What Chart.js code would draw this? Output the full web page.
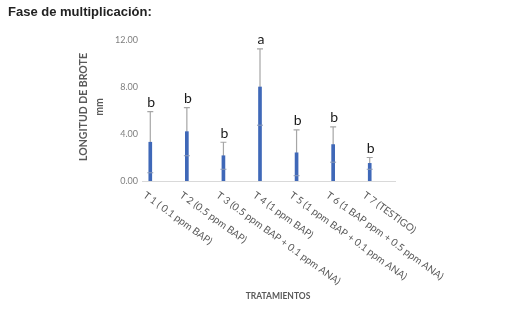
<!DOCTYPE html>
<html>
<head>
<meta charset="utf-8">
<script src="https://cdn.jsdelivr.net/npm/chart.js@4.4.1/dist/chart.umd.min.js"></script>
<style>
    body { margin: 0; background: #fff; }
    canvas { display: block; }
</style>
</head>
<body>
<canvas id="broteChart" width="505" height="312"></canvas>
<script>
// datos
const tratamientos = [
    "T 1 ( 0.1 ppm BAP)",
    "T 2 (0.5 ppm BAP)",
    "T 3 (0.5 ppm BAP + 0.1 ppm ANA)",
    "T 4 (1 ppm BAP)",
    "T 5 (1 ppm BAP + 0.1 ppm ANA)",
    "T 6 (1 BAP ppm + 0.5 ppm ANA)",
    "T 7 (TESTIGO)"
];
const longitud = [3.3, 4.2, 2.15, 8.0, 2.4, 3.1, 1.5];
const desviacion = [2.6, 2.05, 1.15, 3.25, 1.95, 1.5, 0.5];
const letras = ["b", "b", "b", "a", "b", "b", "b"];
const yTicks = [0, 4, 8, 12];

const grisTexto = '#595959';

// barras de error + letras + textos
const extras = {
    id: 'extras',
    beforeDatasetsDraw(chart) {
        const ctx = chart.ctx;
        const x = chart.scales.x, y = chart.scales.y;
        ctx.save();
        // linea del eje x
        ctx.strokeStyle = '#d9d9d9';
        ctx.lineWidth = 1;
        ctx.beginPath();
        ctx.moveTo(chart.chartArea.left + 10, y.getPixelForValue(0) + 0.5);
        ctx.lineTo(chart.chartArea.right + 8, y.getPixelForValue(0) + 0.5);
        ctx.stroke();
        ctx.strokeStyle = '#a6a6a6';
        ctx.lineWidth = 1.2;
        longitud.forEach(function(v, i) {
            let px = x.getPixelForValue(i);
            let top = y.getPixelForValue(v + desviacion[i]);
            let bot = y.getPixelForValue(v - desviacion[i]);
            ctx.beginPath();
            ctx.moveTo(px, top);
            ctx.lineTo(px, bot);
            ctx.moveTo(px - 3, top);
            ctx.lineTo(px + 3, top);
            ctx.stroke();
        });
        ctx.restore();
    },
    afterDatasetsDraw(chart) {
        const ctx = chart.ctx;
        const x = chart.scales.x, y = chart.scales.y;
        ctx.save();
        ctx.strokeStyle = '#8c9bb8';
        ctx.lineWidth = 1;
        longitud.forEach(function(v, i) {
            let px = x.getPixelForValue(i);
            let bot = y.getPixelForValue(v - desviacion[i]);
            ctx.beginPath();
            ctx.moveTo(px - 3, bot);
            ctx.lineTo(px + 3, bot);
            ctx.stroke();
        });
        ctx.fillStyle = '#1a1a1a';
        ctx.font = '14px Lato';
        ctx.textAlign = 'center';
        ctx.textBaseline = 'bottom';
        letras.forEach(function(l, i) {
            let px = x.getPixelForValue(i);
            let top = y.getPixelForValue(longitud[i] + desviacion[i]);
            ctx.fillText(l, px + 1, top - 2);
        });
        ctx.restore();
    },
    afterDraw(chart) {
        const ctx = chart.ctx;
        const x = chart.scales.x, y = chart.scales.y;
        const area = chart.chartArea;
        ctx.save();
        // titulo
        ctx.fillStyle = '#222';
        ctx.font = 'bold 13px "Liberation Sans"';
        ctx.textAlign = 'left';
        ctx.textBaseline = 'alphabetic';
        ctx.fillText('Fase de multiplicación:', 8, 16);

        // etiquetas del eje y
        ctx.fillStyle = '#7f7f7f';
        ctx.font = '9px Lato';
        ctx.textAlign = 'right';
        ctx.textBaseline = 'middle';
        yTicks.forEach(function(v) {
            ctx.fillText(v.toFixed(2), 138, y.getPixelForValue(v));
        });

        // etiquetas del eje x giradas
        ctx.fillStyle = grisTexto;
        ctx.font = '10px Lato';
        ctx.textAlign = 'left';
        ctx.textBaseline = 'top';
        tratamientos.forEach(function(t, i) {
            let px = x.getPixelForValue(i);
            ctx.save();
            ctx.translate(px - 3, area.bottom + 9);
            ctx.rotate(36 * Math.PI / 180);
            ctx.fillText(t, 0, 0);
            ctx.restore();
        });

        // titulos de ejes
        ctx.font = 'bold 8.5px Lato';
        ctx.textAlign = 'center';
        ctx.textBaseline = 'middle';
        ctx.fillText('TRATAMIENTOS', 278, 296);

        ctx.save();
        ctx.translate(92, 107);
        ctx.rotate(-Math.PI / 2);
        ctx.font = 'bold 10.5px Lato';
        ctx.fillText('LONGITUD DE BROTE', 0, -8);
        ctx.fillText('mm', 0, 8);
        ctx.restore();
        ctx.restore();
    }
};

function drawBroteChart() {
    let ctxB = document.getElementById("broteChart").getContext('2d');
    new Chart(ctxB, {
        type: 'bar',
        data: {
            labels: tratamientos,
            datasets: [{
                data: longitud,
                backgroundColor: '#3f68b8',
                barThickness: 3
            }]
        },
        options: {
            responsive: false,
            animation: false,
            devicePixelRatio: 1,
            layout: {
                padding: { top: 40, right: 117, left: 0, bottom: 0 }
            },
            plugins: {
                legend: { display: false },
                tooltip: { enabled: false }
            },
            scales: {
                x: {
                    grid: { display: false, drawTicks: false },
                    border: { display: false },
                    ticks: { display: false },
                    afterFit: function(scale) { scale.height = 131; }
                },
                y: {
                    min: 0,
                    max: 12,
                    grid: { display: false, drawTicks: false },
                    border: { display: false },
                    ticks: { display: false },
                    afterFit: function(scale) { scale.width = 132; }
                }
            }
        },
        plugins: [extras]
    });
}

drawBroteChart();
</script>
</body>
</html>
